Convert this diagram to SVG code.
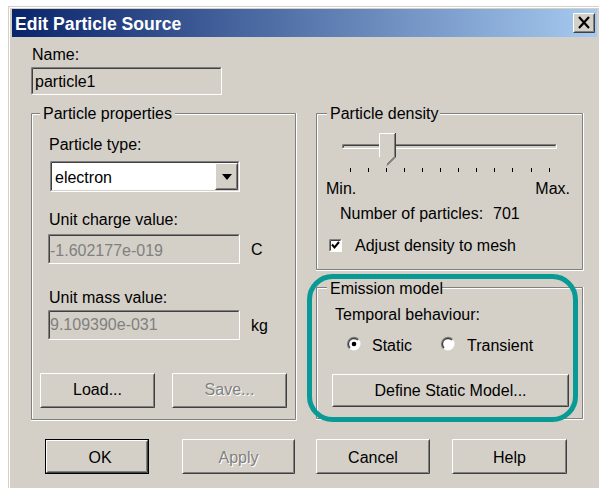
<svg xmlns="http://www.w3.org/2000/svg" width="599" height="488" viewBox="0 0 599 488">
<defs>
<linearGradient id="tbar" x1="0" y1="0" x2="1" y2="0">
<stop offset="0" stop-color="#0a246a"/>
<stop offset="1" stop-color="#a6caf0"/>
</linearGradient>
</defs>
<style>
.t{font-family:"Liberation Sans",Arial,sans-serif;font-size:16px;fill:#000}
.c{text-anchor:middle}
.dis{fill:#808080}
.hl{fill:#fff}
.bg{fill:#d4d0c8}
.g{stroke:#808080;fill:none}
.w{stroke:#fff;fill:none}
.d{stroke:#404040;fill:none}
.l{stroke:#d4d0c8;fill:none}
.k{stroke:#000;fill:none}
</style>
<rect width="599" height="488" fill="#fff"/>
<g id="window">
<rect x="8" y="6" width="591" height="482" class="bg"/>
<path d="M9.5 488 V7.5 H599" class="w"/>
<rect x="12" y="9" width="585" height="28" fill="url(#tbar)"/>
<text x="15" y="30" style="font-family:'Liberation Sans',Arial,sans-serif;font-size:17.6px;font-weight:bold;fill:#fff">Edit Particle Source</text>
</g>
<g id="close-button">
<rect x="573" y="13" width="22" height="20" class="bg"/>
<path d="M573.5 32.5 V13.5 H594.5" class="w"/>
<path d="M573.5 32.5 H594.5 V13.5" class="d"/>
<path d="M574.5 31.5 H593.5 V14.5" class="g"/>
<path d="M579 17 L589 28 M589 17 L579 28" stroke="#000" stroke-width="2.2"/>
</g>
<g id="name-field">
<text x="32" y="60" class="t">Name:</text>
<rect x="31" y="67" width="191" height="28" class="bg"/>
<path d="M31.5 94.5 V67.5 H221.5" class="g"/>
<path d="M31.5 94.5 H221.5 V67.5" class="w"/>
<path d="M32.5 93.5 V68.5 H220.5" class="d"/>
<text x="35" y="87" class="t">particle1</text>
</g>
<g id="particle-properties">
<path d="M40 113.5 H31.5 V419.5 H295.5 V113.5 H175" class="g"/>
<path d="M40 114.5 H32.5 V418.5 M175 114.5 H294.5 M296.5 113 V420.5 H31" class="w"/>
<text x="43" y="119" class="t">Particle properties</text>
</g>
<g id="particle-type">
<text x="49" y="150" class="t">Particle type:</text>
<rect x="50" y="161" width="190" height="31" fill="#fff"/>
<path d="M50.5 191.5 V161.5 H239.5" class="g"/>
<path d="M50.5 191.5 H239.5 V161.5" class="w"/>
<path d="M51.5 190.5 V162.5 H238.5" class="d"/>
<path d="M51.5 190.5 H238.5 V162.5" class="l"/>
<text x="55" y="183" class="t">electron</text>
<rect x="215" y="163" width="23" height="27" class="bg"/>
<path d="M215.5 189.5 V163.5 H237.5" class="w"/>
<path d="M215.5 189.5 H237.5 V163.5" class="d"/>
<path d="M216.5 188.5 H236.5 V164.5" class="g"/>
<path d="M222 174 H232 L227 180 Z" fill="#000"/>
</g>
<g id="unit-charge">
<text x="49" y="225" class="t">Unit charge value:</text>
<rect x="48" y="234" width="192" height="30" class="bg"/>
<path d="M48.5 263.5 V234.5 H239.5" class="g"/>
<path d="M48.5 263.5 H239.5 V234.5" class="w"/>
<path d="M49.5 262.5 V235.5 H238.5" class="d"/>
<text x="50" y="256" class="t dis">-1.602177e-019</text>
<text x="251" y="255" class="t">C</text>
</g>
<g id="unit-mass">
<text x="49" y="303" class="t">Unit mass value:</text>
<rect x="48" y="310" width="192" height="30" class="bg"/>
<path d="M48.5 339.5 V310.5 H239.5" class="g"/>
<path d="M48.5 339.5 H239.5 V310.5" class="w"/>
<path d="M49.5 338.5 V311.5 H238.5" class="d"/>
<text x="50" y="330" class="t dis">9.109390e-031</text>
<text x="251" y="331" class="t">kg</text>
</g>
<g id="load-button">
<rect x="40" y="373" width="115" height="35" class="bg"/>
<path d="M40.5 407.5 V373.5 H154.5" class="w"/>
<path d="M40.5 407.5 H154.5 V373.5" class="d"/>
<path d="M41.5 406.5 H153.5 V374.5" class="g"/>
<text x="97.5" y="395" class="t c">Load...</text>
</g>
<g id="save-button">
<rect x="172" y="373" width="115" height="35" class="bg"/>
<path d="M172.5 407.5 V373.5 H286.5" class="w"/>
<path d="M172.5 407.5 H286.5 V373.5" class="d"/>
<path d="M173.5 406.5 H285.5 V374.5" class="g"/>
<text x="230.5" y="396" class="t c hl">Save...</text>
<text x="229.5" y="395" class="t c dis">Save...</text>
</g>
<g id="particle-density">
<path d="M327 113.5 H316.5 V269.5 H582.5 V113.5 H440" class="g"/>
<path d="M327 114.5 H317.5 V268.5 M440 114.5 H581.5 M583.5 113 V270.5 H316" class="w"/>
<text x="330" y="119" class="t">Particle density</text>
</g>
<g id="density-slider">
<path d="M342.5 148.5 V144.5 H556.5" class="g"/>
<path d="M343.5 147.5 V145.5 H555.5" class="d"/>
<path d="M342.5 148.5 H556.5 V144.5" class="w"/>
<path d="M379 133 H395 V157 L387 165 L379 157 Z" class="bg"/>
<path d="M379.5 157 V133.5 H394.5" class="w"/>
<path d="M395.5 133 V157 L387 165.5" class="d"/>
<path d="M394.5 134 V156.5 L387 164" class="g"/>
<path d="M350.5 168 V172 M368.5 168 V172 M386.5 168 V172 M404.5 168 V172 M422.5 168 V172 M440.5 168 V172 M458.5 168 V172 M476.5 168 V172 M494.5 168 V172 M512.5 168 V172 M531.5 168 V172 M549.5 168 V172" class="k"/>
<text x="326" y="194" class="t">Min.</text>
<text x="570" y="194" class="t" text-anchor="end">Max.</text>
</g>
<g id="number-of-particles">
<text x="340" y="219" class="t">Number of particles:</text>
<text x="493" y="219" class="t">701</text>
</g>
<g id="adjust-density-checkbox">
<rect x="329" y="239" width="13" height="13" fill="#fff"/>
<path d="M329.5 251.5 V239.5 H341.5" class="g"/>
<path d="M329.5 251.5 H341.5 V239.5" class="w"/>
<path d="M330.5 250.5 V240.5 H340.5" class="d"/>
<path d="M332 244.5 L334.5 247.5 L339 242" stroke="#000" stroke-width="2" fill="none"/>
<text x="355" y="251" class="t">Adjust density to mesh</text>
</g>
<g id="emission-model">
<path d="M327 287.5 H316.5 V418.5 H582.5 V287.5 H442" class="g"/>
<path d="M327 288.5 H317.5 V417.5 M442 288.5 H581.5 M583.5 287 V419.5 H316" class="w"/>
<text x="330" y="294" class="t">Emission model</text>
<text x="335" y="320" class="t">Temporal behaviour:</text>
</g>
<g id="radio-static">
<circle cx="354" cy="344" r="6.5" fill="#fff"/>
<path d="M349.4 348.6 A6.5 6.5 0 0 1 358.6 339.4" stroke="#808080" stroke-width="1.3" fill="none"/>
<path d="M350.1 347.9 A5.5 5.5 0 0 1 357.9 340.1" stroke="#404040" stroke-width="1.3" fill="none"/>
<circle cx="354" cy="344" r="2.3" fill="#000"/>
<text x="372" y="351" class="t">Static</text>
</g>
<g id="radio-transient">
<circle cx="448" cy="344" r="6.5" fill="#fff"/>
<path d="M443.4 348.6 A6.5 6.5 0 0 1 452.6 339.4" stroke="#808080" stroke-width="1.3" fill="none"/>
<path d="M444.1 347.9 A5.5 5.5 0 0 1 451.9 340.1" stroke="#404040" stroke-width="1.3" fill="none"/>
<text x="467" y="351" class="t">Transient</text>
</g>
<g id="define-static-model-button">
<rect x="332" y="374" width="237" height="33" class="bg"/>
<path d="M332.5 406.5 V374.5 H568.5" class="w"/>
<path d="M332.5 406.5 H568.5 V374.5" class="d"/>
<path d="M333.5 405.5 H567.5 V375.5" class="g"/>
<text x="450.5" y="396" class="t c">Define Static Model...</text>
</g>
<g id="ok-button">
<rect x="45" y="439" width="104" height="35" class="bg"/>
<rect x="45.5" y="439.5" width="103" height="34" class="k"/>
<path d="M46.5 472.5 V440.5 H147.5" class="w"/>
<path d="M46.5 472.5 H147.5 V440.5" class="d"/>
<path d="M47.5 471.5 H146.5 V441.5" class="g"/>
<text x="100" y="463" class="t c">OK</text>
</g>
<g id="apply-button">
<rect x="182" y="439" width="113" height="35" class="bg"/>
<path d="M182.5 473.5 V439.5 H294.5" class="w"/>
<path d="M182.5 473.5 H294.5 V439.5" class="d"/>
<path d="M183.5 472.5 H293.5 V440.5" class="g"/>
<text x="239.5" y="464" class="t c hl">Apply</text>
<text x="238.5" y="463" class="t c dis">Apply</text>
</g>
<g id="cancel-button">
<rect x="316" y="439" width="114" height="35" class="bg"/>
<path d="M316.5 473.5 V439.5 H429.5" class="w"/>
<path d="M316.5 473.5 H429.5 V439.5" class="d"/>
<path d="M317.5 472.5 H428.5 V440.5" class="g"/>
<text x="373" y="463" class="t c">Cancel</text>
</g>
<g id="help-button">
<rect x="452" y="439" width="115" height="35" class="bg"/>
<path d="M452.5 473.5 V439.5 H566.5" class="w"/>
<path d="M452.5 473.5 H566.5 V439.5" class="d"/>
<path d="M453.5 472.5 H565.5 V440.5" class="g"/>
<text x="509.5" y="463" class="t c">Help</text>
</g>
<g id="highlight">
<rect x="309.5" y="276.5" width="266" height="143" rx="23" fill="none" stroke="#0a9a96" stroke-width="5"/>
</g>
</svg>
